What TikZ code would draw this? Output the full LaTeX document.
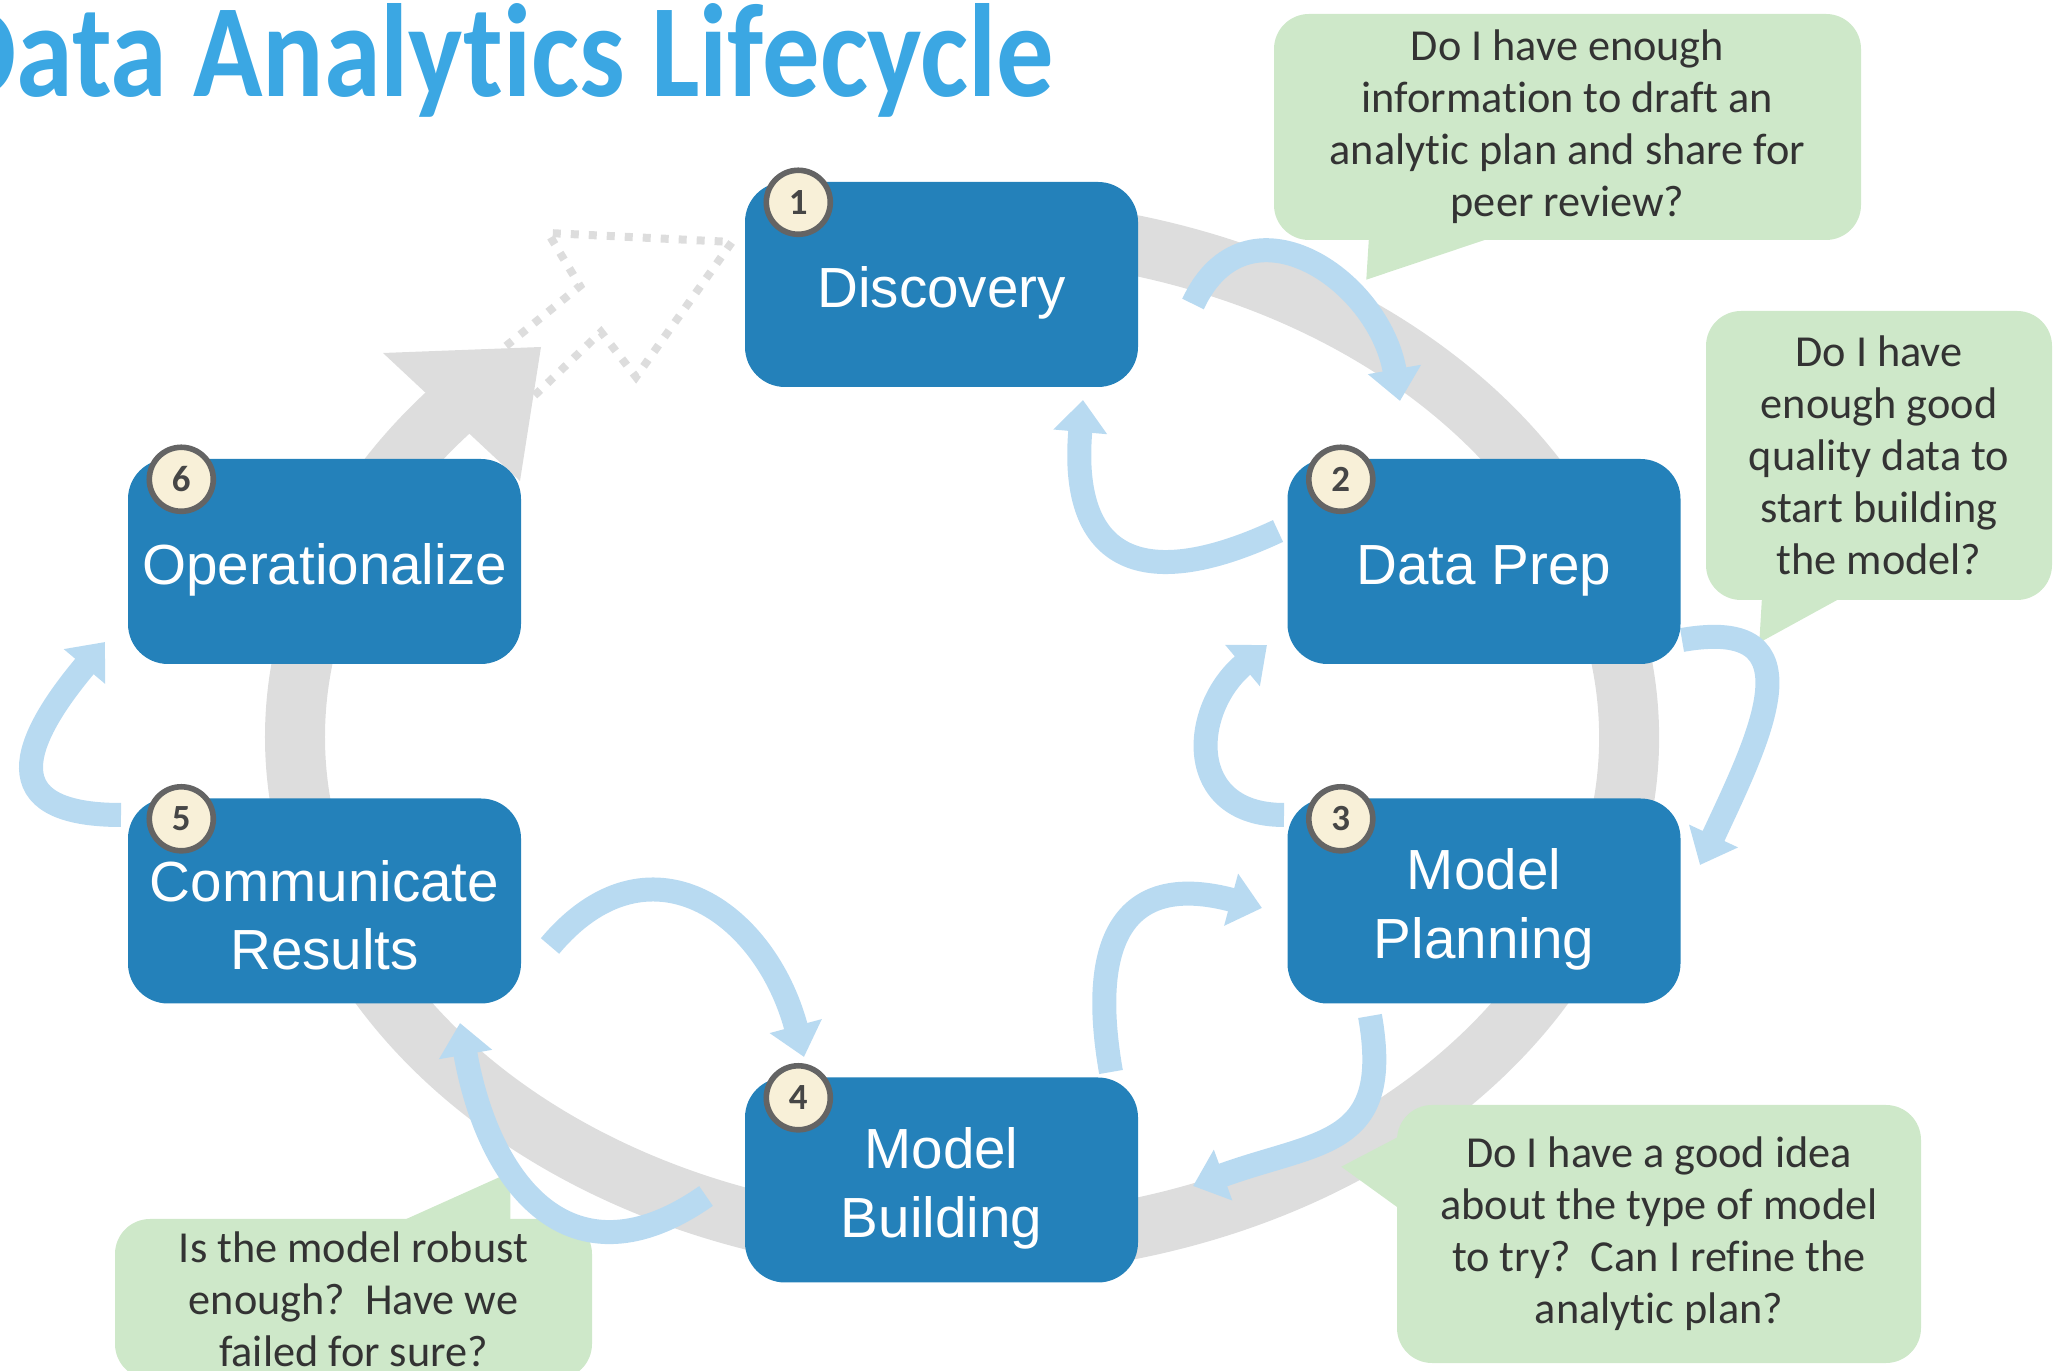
\documentclass[tikz,border=0pt]{standalone}
\usepackage{fontspec}
\setmainfont{Carlito}[Ligatures=NoCommon]
\newfontfamily\stagefont{Liberation Sans}
\usetikzlibrary{arrows.meta,calc,positioning}

\definecolor{stageblue}{RGB}{36,129,186}
\definecolor{ringgray}{RGB}{221,221,221}
\definecolor{loopblue}{RGB}{184,218,241}
\definecolor{notegreen}{RGB}{206,232,201}
\definecolor{titleblue}{RGB}{59,167,227}
\definecolor{badgefill}{RGB}{248,240,216}
\definecolor{badgeline}{RGB}{100,100,100}
\definecolor{notetext}{RGB}{51,51,51}

\tikzset{
  stage/.style={fill=stageblue, rounded corners=0.4cm, minimum width=3.93cm,
    minimum height=2.05cm, inner sep=0pt, text=white, align=center,
    text height=0.58cm, font=\stagefont\fontsize{16.1}{19.5}\selectfont},
  badge/.style={circle, fill=badgefill, draw=badgeline, line width=1.6pt,
    minimum size=0.64cm, inner sep=0pt, text=badgeline!70!black,
    font=\bfseries\fontsize{10.5}{10.5}\selectfont},
  note/.style={fill=notegreen, rounded corners=0.35cm, inner sep=0pt,
    align=center, text=notetext, font=\fontsize{12.6}{14.8}\selectfont},
  cyclearrow/.style={loopblue, line width=0.24cm,
    -{Triangle[width=0.52cm,length=0.32cm]}},
}

\begin{document}
\begin{tikzpicture}
    \useasboundingbox (0,0) rectangle (20.55,13.71);
    \clip (0,0) rectangle (20.55,13.71);

    \node[anchor=base east, inner sep=0pt, text=titleblue] (title) at (10.55,12.74)
        {\resizebox{11.1cm}{0.93cm}{\bfseries Data Analytics Lifecycle}};

    \draw[ringgray, line width=0.6cm] (9.62,6.34) ++(100:6.67cm and 5.09cm)
        arc[start angle=100, end angle=-221, x radius=6.67cm, y radius=5.09cm];
    \fill[ringgray] (3.83,10.18) -- (5.41,10.24) -- (5.20,8.90) -- cycle;
    \draw[ringgray, line width=0.08cm, dash pattern=on 0.08cm off 0.1cm]
        (5.06,10.25) -- (5.80,10.85) -- (5.48,11.38) -- (7.32,11.29)
        -- (6.36,9.94) -- (6.01,10.39) -- (5.34,9.75);

    \node[note, minimum width=5.87cm, minimum height=2.26cm] (q1) at (15.675,12.44)
        {Do I have enough\\information to draft an\\analytic plan and share for\\peer review?};
    \fill[notegreen] ($(q1.south west)+(0.96,0.09)$) -- ($(q1.south west)+(0.93,-0.39)$)
        -- ($(q1.south west)+(2.36,0.09)$) -- cycle;
    \node[note, minimum width=3.46cm, minimum height=2.89cm] (q2) at (18.79,9.155)
        {Do I have\\enough good\\quality data to\\start building\\the model?};
    \fill[notegreen] ($(q2.south west)+(0.57,0.09)$) -- ($(q2.south west)+(0.54,-0.42)$)
        -- ($(q2.south west)+(1.47,0.09)$) -- cycle;
    \node[note, minimum width=5.24cm, minimum height=2.58cm] (q3) at (16.59,1.37)
        {Do I have a good idea\\about the type of model\\to try?\ \ Can I refine the\\analytic plan?};
    \fill[notegreen] ($(q3.south west)+(0.1,2.31)$) -- ($(q3.south west)+(-0.55,1.97)$)
        -- ($(q3.south west)+(0.1,1.50)$) -- cycle;
    \node[note, minimum width=4.77cm, minimum height=1.60cm] (q4) at (3.535,0.72)
        {Is the model robust\\enough?\ \ Have we\\failed for sure?};
    \fill[notegreen] ($(q4.north west)+(2.78,-0.07)$) -- ($(q4.north west)+(3.96,0.46)$)
        -- ($(q4.north west)+(3.96,-0.07)$) -- cycle;

    \coordinate (a1s) at (11.93,10.67);  \coordinate (a1e) at (14.00,9.70);
    \coordinate (a2s) at (12.78,8.40);   \coordinate (a2e) at (10.83,9.71);
    \coordinate (a3s) at (16.82,7.31);   \coordinate (a3e) at (17.00,5.06);
    \coordinate (a4s) at (12.84,5.56);   \coordinate (a4e) at (12.67,7.26);
    \coordinate (a5s) at (13.70,3.55);   \coordinate (a5e) at (11.93,1.85);
    \coordinate (a6s) at (11.11,2.99);   \coordinate (a6e) at (12.62,4.63);
    \coordinate (a7s) at (5.50,4.25);    \coordinate (a7e) at (8.04,3.14);
    \coordinate (a8s) at (7.06,1.75);    \coordinate (a8e) at (4.60,3.48);
    \coordinate (a9s) at (1.21,5.56);    \coordinate (a9e) at (1.05,7.29);

    \draw[cyclearrow] (a1s) to[out=65,in=100,looseness=1.4] (a1e);
    \draw[cyclearrow] (a2s) to[out=205,in=-95,looseness=1.7] (a2e);
    \draw[cyclearrow] (a3s) to[out=10,in=65,looseness=1.6] (a3e);
    \draw[cyclearrow] (a4s) to[out=180,in=-140,looseness=1.5] (a4e);
    \draw[cyclearrow] (a5s) to[out=-80,in=20,looseness=1.4] (a5e);
    \draw[cyclearrow] (a6s) to[out=100,in=165,looseness=1.6] (a6e);
    \draw[cyclearrow] (a7s) to[out=50,in=105,looseness=1.4] (a7e);
    \draw[cyclearrow] (a8s) to[out=215,in=-80,looseness=1.4] (a8e);
    \draw[cyclearrow] (a9s) to[out=180,in=-130,looseness=1.9] (a9e);

    \node[stage] (disc) at (9.415,10.865) {Discovery};
    \node[stage] (prep) at (14.84,8.095) {Data Prep};
    \node[stage, text height=1.26cm] (plan) at (14.84,4.70) {Model\\Planning};
    \node[stage, text height=1.26cm] (build) at (9.415,1.91) {Model\\Building};
    \node[stage, text height=1.38cm] (comm) at (3.245,4.70) {Communicate\\Results};
    \node[stage] (oper) at (3.245,8.095) {Operationalize};

    \foreach \s/\n in {disc/1,prep/2,plan/3,build/4,comm/5,oper/6}
        \node[badge] (b\n) at ($(\s.north west)+(0.54,-0.21)$) {\n};
\end{tikzpicture}
\end{document}
